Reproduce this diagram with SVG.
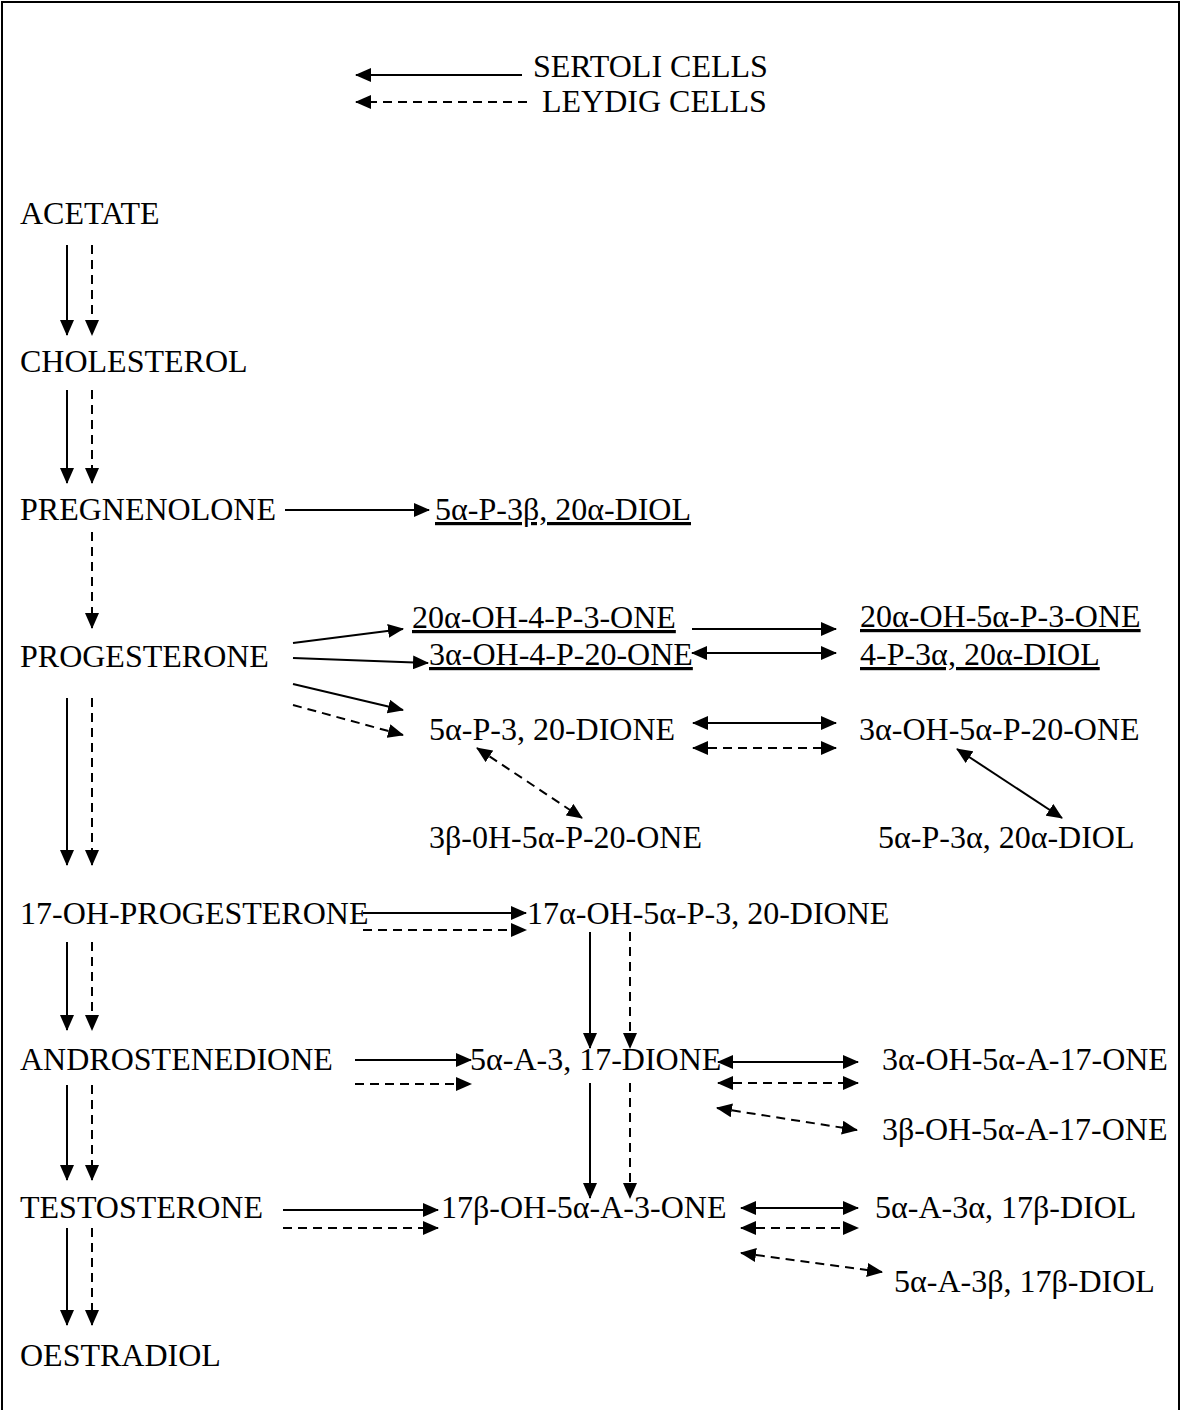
<svg xmlns="http://www.w3.org/2000/svg" width="1182" height="1410" viewBox="0 0 1182 1410">
<style>
text{font-family:"Liberation Serif","Times New Roman",serif;font-size:32px;fill:#000}
.u{text-decoration:underline}
.s{stroke:#000;stroke-width:2;fill:none;marker-end:url(#ah)}
.d{stroke:#000;stroke-width:2;fill:none;stroke-dasharray:9,6;marker-end:url(#ah)}
.s2{stroke:#000;stroke-width:2;fill:none;marker-start:url(#ah);marker-end:url(#ah)}
.d2{stroke:#000;stroke-width:2;fill:none;stroke-dasharray:9,6;marker-start:url(#ah);marker-end:url(#ah)}
</style>
<defs>
<marker id="ah" markerUnits="userSpaceOnUse" markerWidth="16" markerHeight="14" refX="15" refY="7" orient="auto-start-reverse" viewBox="0 0 16 14">
<path d="M0,0 L16,7 L0,14 z" fill="#000"/>
</marker>
</defs>
<rect x="0" y="0" width="1182" height="1410" fill="#fff"/>
<rect x="2" y="2" width="1177" height="1430" fill="none" stroke="#000" stroke-width="2"/>

<g id="legend">
<text x="533" y="77">SERTOLI CELLS</text>
<text x="542" y="112">LEYDIG CELLS</text>
</g>
<g id="acetate"><text x="20" y="224">ACETATE</text></g>
<g id="cholesterol"><text x="20" y="372">CHOLESTEROL</text></g>
<g id="pregnenolone"><text x="20" y="520">PREGNENOLONE</text></g>
<g id="p3b20adiol"><text class="u" x="435" y="520">5α-P-3β, 20α-DIOL</text></g>
<g id="progesterone"><text x="20" y="667">PROGESTERONE</text></g>
<g id="oh20a4p3one"><text class="u" x="412" y="628">20α-OH-4-P-3-ONE</text></g>
<g id="oh3a4p20one"><text class="u" x="429" y="665">3α-OH-4-P-20-ONE</text></g>
<g id="oh20a5ap3one"><text class="u" x="860" y="627">20α-OH-5α-P-3-ONE</text></g>
<g id="p3a20adiol4"><text class="u" x="860" y="665">4-P-3α, 20α-DIOL</text></g>
<g id="p320dione"><text x="429" y="740">5α-P-3, 20-DIONE</text></g>
<g id="oh3a5ap20one"><text x="859" y="740">3α-OH-5α-P-20-ONE</text></g>
<g id="oh3b5ap20one"><text x="429" y="848">3β-0H-5α-P-20-ONE</text></g>
<g id="p3a20adiol5a"><text x="878" y="848">5α-P-3α, 20α-DIOL</text></g>
<g id="ohprog17"><text x="20" y="924">17-OH-PROGESTERONE</text></g>
<g id="oh17a5ap320dione"><text x="527" y="924">17α-OH-5α-P-3, 20-DIONE</text></g>
<g id="androstenedione"><text x="20" y="1070">ANDROSTENEDIONE</text></g>
<g id="a317dione"><text x="470" y="1070">5α-A-3, 17-DIONE</text></g>
<g id="oh3a5aa17one"><text x="882" y="1070">3α-OH-5α-A-17-ONE</text></g>
<g id="oh3b5aa17one"><text x="882" y="1140">3β-OH-5α-A-17-ONE</text></g>
<g id="testosterone"><text x="20" y="1218">TESTOSTERONE</text></g>
<g id="oh17b5aa3one"><text x="441" y="1218">17β-OH-5α-A-3-ONE</text></g>
<g id="a3a17bdiol"><text x="875" y="1218">5α-A-3α, 17β-DIOL</text></g>
<g id="a3b17bdiol"><text x="894" y="1292">5α-A-3β, 17β-DIOL</text></g>
<g id="oestradiol"><text x="20" y="1366">OESTRADIOL</text></g>

<g id="connectors">
<line class="s" x1="522" y1="75" x2="356" y2="75"/>
<line class="d" x1="527" y1="102" x2="356" y2="102"/>

<line class="s" x1="67" y1="245" x2="67" y2="335"/>
<line class="d" x1="92" y1="245" x2="92" y2="335"/>
<line class="s" x1="67" y1="390" x2="67" y2="483"/>
<line class="d" x1="92" y1="390" x2="92" y2="483"/>
<line class="s" x1="285" y1="510" x2="429" y2="510"/>
<line class="d" x1="92" y1="532" x2="92" y2="628"/>

<line class="s" x1="293" y1="643" x2="403" y2="629"/>
<line class="s" x1="293" y1="658" x2="428" y2="663"/>
<line class="s" x1="293" y1="684" x2="403" y2="710"/>
<line class="d" x1="293" y1="705" x2="403" y2="735"/>
<line class="s" x1="692" y1="629" x2="836" y2="629"/>
<line class="s2" x1="692" y1="653" x2="836" y2="653"/>
<line class="s2" x1="693" y1="723" x2="836" y2="723"/>
<line class="d2" x1="693" y1="748" x2="836" y2="748"/>
<line class="d2" x1="477" y1="748" x2="582" y2="818"/>
<line class="s2" x1="957" y1="749" x2="1062" y2="818"/>

<line class="s" x1="67" y1="698" x2="67" y2="865"/>
<line class="d" x1="92" y1="698" x2="92" y2="865"/>

<line class="s" x1="363" y1="913" x2="526" y2="913"/>
<line class="d" x1="363" y1="930" x2="526" y2="930"/>
<line class="s" x1="590" y1="932" x2="590" y2="1048"/>
<line class="d" x1="630" y1="932" x2="630" y2="1048"/>

<line class="s" x1="67" y1="942" x2="67" y2="1030"/>
<line class="d" x1="92" y1="942" x2="92" y2="1030"/>

<line class="s" x1="355" y1="1060" x2="471" y2="1060"/>
<line class="d" x1="355" y1="1084" x2="471" y2="1084"/>
<line class="s2" x1="718" y1="1062" x2="858" y2="1062"/>
<line class="d2" x1="718" y1="1083" x2="858" y2="1083"/>
<line class="d2" x1="717" y1="1108" x2="857" y2="1130"/>
<line class="s" x1="590" y1="1083" x2="590" y2="1198"/>
<line class="d" x1="630" y1="1083" x2="630" y2="1198"/>

<line class="s" x1="67" y1="1085" x2="67" y2="1180"/>
<line class="d" x1="92" y1="1085" x2="92" y2="1180"/>

<line class="s" x1="283" y1="1210" x2="438" y2="1210"/>
<line class="d" x1="283" y1="1228" x2="438" y2="1228"/>
<line class="s2" x1="741" y1="1208" x2="858" y2="1208"/>
<line class="d2" x1="741" y1="1228" x2="858" y2="1228"/>
<line class="d2" x1="741" y1="1253" x2="882" y2="1272"/>

<line class="s" x1="67" y1="1228" x2="67" y2="1325"/>
<line class="d" x1="92" y1="1228" x2="92" y2="1325"/>
</g>
</svg>
